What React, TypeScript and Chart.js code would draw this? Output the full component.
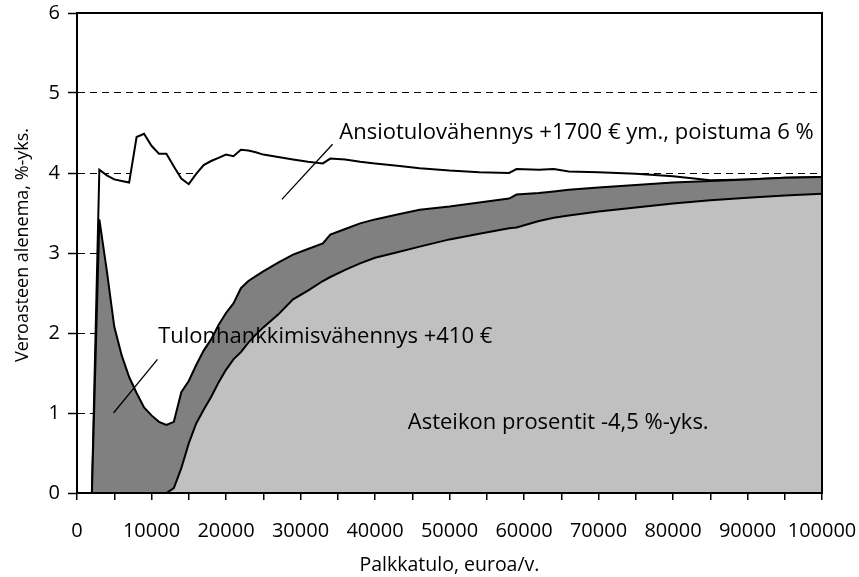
import { useEffect, useRef } from 'react';
import { Chart, registerables } from 'chart.js';

Chart.register(...registerables);

// Palkkatulo, euroa/v.
const incomes = [
  2000, 3000, 4000, 5000, 6000, 7000, 8000, 9000, 10000, 11000, 12000, 13000, 14000, 15000,
  16000, 17000, 18000, 19000, 20000, 21000, 22000, 23000, 24000, 25000, 27000, 29000, 31000,
  33000, 34000, 36000, 38000, 40000, 43000, 46000, 50000, 54000, 58000, 59000, 62000, 64000,
  66000, 70000, 75000, 80000, 85000, 90000, 95000, 100000,
];

// Asteikon prosentit -4,5 %-yks. (bottom layer)
const asteikko = [
  0, 0, 0, 0, 0, 0, 0, 0, 0, 0, 0, 0.06, 0.31, 0.62,
  0.87, 1.04, 1.2, 1.38, 1.54, 1.67, 1.76, 1.88, 1.98, 2.07, 2.23, 2.42, 2.53,
  2.65, 2.7, 2.79, 2.87, 2.94, 3.01, 3.08, 3.17, 3.24, 3.31, 3.32, 3.4, 3.44,
  3.47, 3.52, 3.57, 3.62, 3.66, 3.69, 3.72, 3.74,
];

// Tulonhankkimisvähennys +410 € (middle layer)
const tulonhankkimis = [
  0, 3.42, 2.78, 2.08, 1.72, 1.45, 1.25, 1.07, 0.97, 0.89, 0.85, 0.83, 0.95, 0.78,
  0.73, 0.74, 0.72, 0.72, 0.71, 0.7, 0.8, 0.77, 0.73, 0.7, 0.65, 0.56, 0.52,
  0.47, 0.53, 0.51, 0.5, 0.48, 0.47, 0.46, 0.41, 0.39, 0.37, 0.41, 0.35, 0.33,
  0.32, 0.3, 0.28, 0.26, 0.24, 0.23, 0.22, 0.21,
];

// Ansiotulovähennys +1700 € ym., poistuma 6 % (top layer)
const ansiotulo = [
  0, 0.62, 1.19, 1.84, 2.18, 2.43, 3.2, 3.42, 3.37, 3.35, 3.39, 3.19, 2.67, 2.46,
  2.39, 2.32, 2.23, 2.09, 1.98, 1.84, 1.73, 1.63, 1.55, 1.46, 1.32, 1.19, 1.09,
  1.0, 0.95, 0.87, 0.77, 0.7, 0.61, 0.52, 0.45, 0.38, 0.32, 0.32, 0.29, 0.28,
  0.23, 0.19, 0.14, 0.08, 0.01, 0, 0, 0,
];

const seriesNames = [
  'Asteikon prosentit -4,5 %-yks.',
  'Tulonhankkimisvähennys +410 €',
  'Ansiotulovähennys +1700 € ym., poistuma 6 %',
];
const seriesColors = ['#c0c0c0', '#808080', '#ffffff'];

const xAxisTitle = 'Palkkatulo, euroa/v.';
const yAxisTitle = 'Veroasteen alenema, %-yks.';

// annotation anchors in data coordinates
const notes = [
  { text: seriesNames[2], x: 35200, y: 4.5 },
  { text: seriesNames[1], x: 10900, y: 1.95 },
  { text: seriesNames[0], x: 44400, y: 0.88 },
];
const leaders = [
  [27500, 3.67, 34300, 4.36],
  [4900, 1.0, 10800, 1.67],
];

const FONT = '"Open Sans", "Noto Sans", sans-serif';

const framePlugin = {
  id: 'frameAndNotes',
  afterDatasetsDraw(chart: any) {
    const { ctx, chartArea: a } = chart;
    ctx.save();
    ctx.strokeStyle = '#000';
    ctx.lineWidth = 2;
    ctx.strokeRect(a.left, a.top, a.right - a.left, a.bottom - a.top);
    ctx.restore();
  },
  afterDraw(chart: any) {
    const { ctx, chartArea: a } = chart;
    const xs = chart.scales.x;
    const ys = chart.scales.y;
    ctx.save();
    ctx.strokeStyle = '#000';
    ctx.lineWidth = 1.3;
    leaders.forEach(([x1, y1, x2, y2]) => {
      ctx.beginPath();
      ctx.moveTo(xs.getPixelForValue(x1), ys.getPixelForValue(y1));
      ctx.lineTo(xs.getPixelForValue(x2), ys.getPixelForValue(y2));
      ctx.stroke();
    });
    ctx.fillStyle = '#000';
    ctx.font = `22px ${FONT}`;
    ctx.textAlign = 'left';
    ctx.textBaseline = 'middle';
    notes.forEach((n) => {
      ctx.fillText(n.text, xs.getPixelForValue(n.x), ys.getPixelForValue(n.y));
    });
    // y axis title
    ctx.translate(23, (a.top + a.bottom) / 2 - 8);
    ctx.rotate(-Math.PI / 2);
    ctx.textAlign = 'center';
    ctx.font = `18px ${FONT}`;
    ctx.fillText(yAxisTitle, 0, 0);
    ctx.restore();
  },
};

export default function App() {
  const ref = useRef<HTMLCanvasElement | null>(null);
  useEffect(() => {
    if (!ref.current) return;
    const layers = [asteikko, tulonhankkimis, ansiotulo];
    const chart = new Chart(ref.current, {
      type: 'line',
      data: {
        datasets: layers.map((vals, i) => ({
          label: seriesNames[i],
          data: incomes.map((x, k) => ({ x, y: vals[k] })),
          backgroundColor: seriesColors[i],
          borderColor: '#000',
          borderWidth: 2,
          pointRadius: 0,
          tension: 0,
          fill: i === 0 ? 'origin' : '-1',
        })),
      },
      options: {
        animation: false,
        responsive: false,
        maintainAspectRatio: false,
        layout: { padding: { top: 13, right: 37, left: 0, bottom: 0 } },
        plugins: { legend: { display: false }, tooltip: { enabled: false } },
        scales: {
          x: {
            type: 'linear',
            min: 0,
            max: 100000,
            afterFit: (s: any) => {
              s.height = 84;
              s.paddingLeft = 0;
              s.paddingRight = 0;
            },
            ticks: {
              stepSize: 5000,
              autoSkip: false,
              maxRotation: 0,
              color: '#000',
              padding: 19,
              font: { family: FONT, size: 20 },
              callback: (v: any) => (Number(v) % 10000 === 0 ? String(v) : ''),
            },
            grid: { drawOnChartArea: false, tickLength: 7, color: '#000', lineWidth: 1.5 },
            border: { display: true, color: '#000', width: 2 },
            title: {
              display: true,
              text: xAxisTitle,
              color: '#000',
              font: { family: FONT, size: 19.5 },
              padding: { top: 0, bottom: 0 },
            },
          },
          y: {
            stacked: true,
            min: 0,
            max: 6,
            afterFit: (s: any) => {
              s.width = 77;
              s.paddingTop = 0;
              s.paddingBottom = 0;
            },
            ticks: {
              stepSize: 1,
              color: '#000',
              padding: 8,
              font: { family: FONT, size: 20 },
            },
            grid: {
              color: '#000',
              lineWidth: 1,
              tickBorderDash: [],
              tickLength: 9,
              tickWidth: 1.5,
            },
            border: { display: true, color: '#000', width: 2, dash: [7, 5] },
            title: { display: false },
          },
        },
      },
      plugins: [framePlugin],
    });
    return () => chart.destroy();
  }, []);
  return (
    <div style={{ position: 'fixed', left: 0, top: 0, width: 859, height: 577, background: '#fff' }}>
      <canvas ref={ref} width={859} height={577} style={{ width: 859, height: 577 }} />
    </div>
  );
}
